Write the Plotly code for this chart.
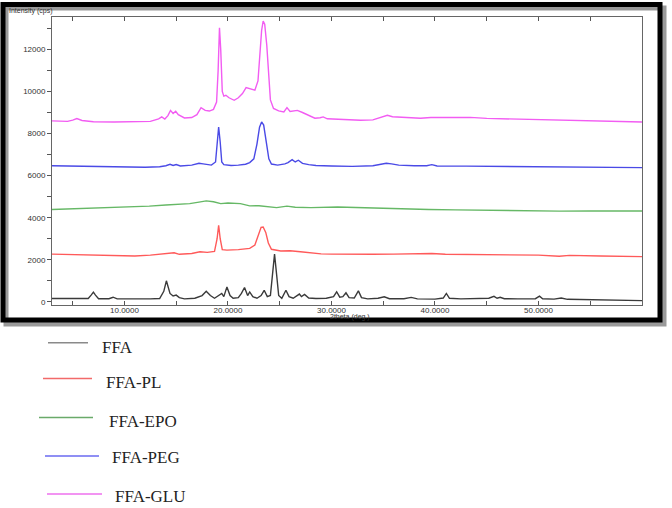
import plotly.graph_objects as go

# ---------------- data ----------------
series_names = ["FFA", "FFA-PL", "FFA-EPO", "FFA-PEG", "FFA-GLU"]

ffa_x = [3.0, 5.0, 6.5, 6.8, 7.0, 7.2, 7.5, 8.5, 8.9, 9.3, 11.0, 12.5, 13.4, 13.8, 14.05, 14.25, 14.4, 14.7,
         15.0, 15.3, 15.8, 16.8, 17.5, 17.9, 18.3, 18.7, 19.1, 19.4, 19.6, 19.9, 20.2, 20.5, 21.0, 21.3, 21.6,
         21.9, 22.1, 22.4, 22.8, 23.2, 23.5, 23.8, 24.1, 24.3, 24.5, 24.7, 24.9, 25.2, 25.6, 25.9, 26.3, 26.9,
         27.1, 27.4, 27.8, 28.5, 29.5, 30.2, 30.5, 30.8, 31.1, 31.4, 31.7, 32.2, 32.6, 32.9, 33.5, 34.5, 35.1,
         35.6, 37.0, 37.7, 38.3, 40.0, 40.8, 41.1, 41.4, 42.5, 44.0, 45.2, 45.7, 46.0, 46.3, 46.7, 48.0, 49.7,
         50.1, 50.4, 51.5, 52.2, 52.8, 55.0, 57.0, 60.0]
ffa_y = [160, 150, 160, 330, 460, 320, 150, 150, 220, 140, 130, 140, 160, 500, 1000, 700, 400, 280,
         320, 200, 140, 170, 300, 500, 300, 170, 300, 400, 250, 710, 300, 170, 200, 400, 680,
         300, 470, 250, 170, 300, 550, 250, 300, 1300, 2270, 1300, 300, 170, 550, 250, 170, 370,
         250, 350, 180, 160, 170, 250, 480, 220, 250, 430, 200, 180, 520, 200, 140, 170, 240,
         150, 150, 210, 140, 130, 180, 400, 170, 140, 150, 170, 260, 170, 220, 150, 140, 150,
         270, 150, 130, 180, 120, 110, 90, 60]

pl_x = [3.0, 5.0, 7.6, 10.0, 11.0, 12.5, 14.0, 14.8, 15.3, 16.5, 17.3, 18.0, 18.7, 18.95, 19.1, 19.25, 19.45,
        19.9, 21.0, 22.1, 22.6, 22.95, 23.2, 23.4, 23.65, 23.9, 24.2, 25.1, 26.0, 27.0, 28.0, 29.0, 30.0,
        32.0, 34.0, 36.0, 38.5, 39.7, 41.0, 44.0, 47.0, 50.0, 52.0, 53.0, 56.0, 58.0, 60.0]
pl_y = [2270, 2250, 2220, 2200, 2180, 2220, 2270, 2330, 2260, 2300, 2380, 2350, 2400, 3000, 3640, 3000, 2480,
        2460, 2480, 2540, 2700, 3200, 3540, 3560, 3300, 2800, 2500, 2420, 2430, 2380, 2320, 2280, 2270,
        2250, 2260, 2270, 2270, 2300, 2260, 2240, 2230, 2220, 2170, 2210, 2180, 2170, 2150]

epo_x = [3.0, 5.0, 7.6, 10.0, 12.4, 14.0, 15.3, 16.3, 17.2, 17.9, 18.6, 19.3, 20.0, 21.2, 22.1, 23.0, 24.7,
         25.7, 26.5, 28.0, 30.6, 33.0, 35.5, 38.0, 39.4, 42.0, 45.0, 48.2, 50.0, 52.0, 55.0, 58.0, 60.0]
epo_y = [4390, 4420, 4470, 4500, 4550, 4600, 4640, 4670, 4740, 4800, 4760, 4670, 4700, 4670, 4560, 4570, 4480,
         4550, 4500, 4480, 4510, 4470, 4440, 4400, 4390, 4370, 4350, 4320, 4330, 4310, 4320, 4320, 4320]

peg_x = [3.0, 5.0, 7.6, 10.0, 12.0, 13.4, 14.0, 14.4, 14.7, 15.0, 15.4, 16.5, 17.2, 17.6, 18.4, 18.8, 18.95,
         19.1, 19.25, 19.4, 19.6, 20.3, 21.0, 21.7, 22.1, 22.5, 22.8, 23.05, 23.25, 23.45, 23.7, 23.95, 24.2,
         24.8, 25.5, 25.8, 26.2, 26.5, 26.8, 27.2, 27.8, 28.5, 30.0, 32.0, 34.0, 35.3, 35.8, 36.5, 38.0, 39.2,
         39.7, 40.2, 43.0, 46.0, 50.0, 54.0, 57.0, 60.0]
peg_y = [6470, 6450, 6410, 6400, 6400, 6420, 6470, 6540, 6480, 6530, 6460, 6500, 6590, 6560, 6500, 6650, 7600,
         8310, 7600, 6650, 6520, 6480, 6500, 6540, 6620, 6800, 7500, 8300, 8550, 8400, 7600, 6800, 6550,
         6500, 6560, 6620, 6760, 6650, 6730, 6580, 6520, 6480, 6460, 6440, 6470, 6590, 6560, 6500, 6470, 6470,
         6520, 6460, 6450, 6440, 6420, 6400, 6390, 6380]

glu_x = [3.0, 4.5, 5.0, 5.4, 5.9, 7.0, 9.0, 11.0, 12.5, 13.3, 13.6, 13.9, 14.2, 14.45, 14.7, 14.95, 15.2, 15.8,
         16.5, 17.0, 17.4, 17.8, 18.2, 18.6, 18.9, 19.05, 19.18, 19.3, 19.45, 19.6, 19.8, 20.1, 20.6, 21.0,
         21.4, 21.75, 22.1, 22.6, 22.9, 23.1, 23.25, 23.4, 23.55, 23.75, 23.95, 24.1, 24.4, 24.9, 25.4, 25.7,
         26.0, 26.7, 27.2, 27.8, 28.4, 28.9, 29.2, 29.6, 30.8, 32.0, 32.8, 34.0, 35.0, 35.4, 35.9, 36.7, 38.6,
         39.6, 41.0, 43.4, 45.0, 47.0, 48.5, 50.5, 53.0, 55.0, 57.9, 60.0]
glu_y = [8600, 8580, 8640, 8710, 8620, 8560, 8550, 8560, 8580, 8700, 8790, 8690, 8850, 9100, 8950, 9060, 8900, 8740,
         8760, 8900, 9230, 9100, 9070, 9150, 9500, 11000, 13030, 12000, 10000, 9780, 9820, 9700, 9580, 9700,
         9900, 10180, 10120, 10060, 10500, 11800, 12900, 13350, 13200, 12200, 10500, 9600, 9190, 9080, 9030, 9230,
         9050, 9100, 9000, 8850, 8730, 8750, 8790, 8700, 8680, 8650, 8630, 8650, 8800, 8870, 8800, 8770, 8730,
         8760, 8760, 8770, 8720, 8700, 8680, 8630, 8610, 8590, 8580, 8550]

x_tick_vals = [5, 10, 15, 20, 25, 30, 35, 40, 45, 50, 55]
x_tick_text = ["", "10.0000", "", "20.0000", "", "30.0000", "", "40.0000", "", "50.0000", ""]
y_tick_vals = list(range(0, 14000, 1000))
y_tick_text = [str(v) if v % 2000 == 0 else "" for v in y_tick_vals]

x_title = "2theta (deg.)"
y_title = "Intensity (cps)"

# ---------------- styling ----------------
plot_colors = ["#3a3a3a", "#ff5a5a", "#66b866", "#4a4ae6", "#f25cf2"]
legend_colors = ["#8a8a8a", "#f26a6a", "#6aaa6a", "#6a6af0", "#ee70ee"]

W, H = 672, 508
L, R, T, B = 52, 642, 17, 305  # plot area in pixels


def px(xp):
    return (xp - L) / (R - L)


def py(yp):
    return (B - yp) / (B - T)


xs = [ffa_x, pl_x, epo_x, peg_x, glu_x]
ys = [ffa_y, pl_y, epo_y, peg_y, glu_y]

fig = go.Figure()
for name, xv, yv, c in zip(series_names, xs, ys, plot_colors):
    fig.add_trace(go.Scatter(x=xv, y=yv, mode="lines", name=name,
                             line=dict(color=c, width=1.4), showlegend=False))

axis_font = dict(family="Arial, Liberation Sans, sans-serif", size=8, color="#333")
fig.update_layout(
    width=W, height=H,
    margin=dict(l=L, r=W - R, t=T, b=H - B),
    paper_bgcolor="white", plot_bgcolor="white",
    xaxis=dict(range=[3, 60], tickvals=x_tick_vals, ticktext=x_tick_text,
               ticks="inside", ticklen=4, tickcolor="#555", showgrid=False, zeroline=False,
               showline=True, linecolor="#666", linewidth=1, mirror="ticks",
               tickfont=axis_font, ticklabelstandoff=-3),
    yaxis=dict(range=[-150, 13540], tickvals=y_tick_vals, ticktext=y_tick_text,
               ticks="outside", ticklen=4, tickcolor="#555", showgrid=False, zeroline=False,
               showline=True, linecolor="#666", linewidth=1, mirror=True,
               tickfont=axis_font),
    yaxis2=dict(range=[-150, 13540], overlaying="y", side="right", tickvals=y_tick_vals,
                showticklabels=False, ticks="inside", ticklen=3, tickcolor="#555",
                showgrid=False, zeroline=False, showline=False),
)

shapes = []
# shadow and thick black frame
shapes.append(dict(type="rect", xref="paper", yref="paper",
                   x0=px(6), x1=px(664), y0=py(8), y1=py(324),
                   line=dict(color="#9a9a9a", width=5), layer="below"))
shapes.append(dict(type="rect", xref="paper", yref="paper",
                   x0=px(3), x1=px(660), y0=py(4.5), y1=py(320),
                   line=dict(color="black", width=5), layer="below"))

# custom legend below the frame
leg_lines = [(48, 88, 342.7), (43, 92, 378.5), (39, 93, 417.5), (45, 99, 456), (47, 102, 494)]
leg_text = [(100, 347.5), (104, 382), (107, 421), (110, 457), (113, 496)]
annotations = []
for name, c, (x0, x1, yl), (tx, ty) in zip(series_names, legend_colors, leg_lines, leg_text):
    shapes.append(dict(type="line", xref="paper", yref="paper",
                       x0=px(x0), x1=px(x1), y0=py(yl), y1=py(yl),
                       line=dict(color=c, width=1.5)))
    annotations.append(dict(text=name, xref="paper", yref="paper", x=px(tx), y=py(ty),
                            xanchor="left", yanchor="middle", showarrow=False,
                            font=dict(family="Liberation Serif, Times New Roman, serif",
                                      size=17, color="#222")))

annotations.append(dict(text=y_title, xref="paper", yref="paper", x=px(7), y=py(10.7),
                        xanchor="left", yanchor="middle", showarrow=False,
                        font=dict(family="Arial, Liberation Sans, sans-serif", size=7, color="#333")))
annotations.append(dict(text=x_title, xref="paper", yref="paper", x=px(350), y=py(316.5),
                        xanchor="center", yanchor="middle", showarrow=False,
                        font=dict(family="Arial, Liberation Sans, sans-serif", size=7, color="#333")))

fig.update_layout(shapes=shapes, annotations=annotations)
fig.write_html("out.html", config={"displayModeBar": False},
               post_script="document.body.style.margin='0px';")
